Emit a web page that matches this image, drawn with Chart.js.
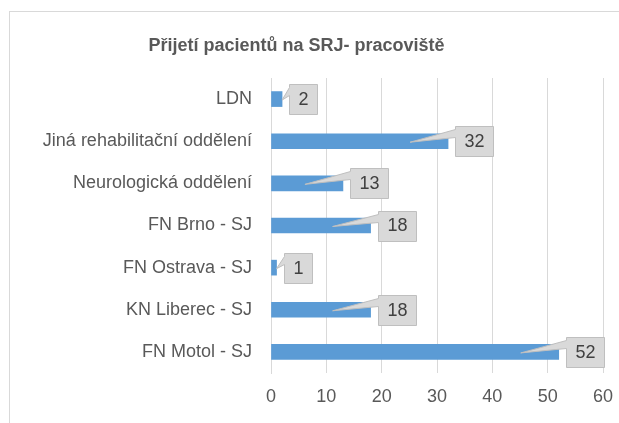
<!DOCTYPE html>
<html>
<head>
<meta charset="utf-8">
<script src="https://cdn.jsdelivr.net/npm/chart.js@4/dist/chart.umd.min.js"></script>
<style>
  html, body { margin: 0; padding: 0; background: #fff; }
  #myChart { display: block; }
</style>
</head>
<body>
<canvas id="myChart" width="619" height="423"></canvas>
<script>
var chartTitle = 'Přijetí pacientů na SRJ- pracoviště';
var labels = ['LDN', 'Jiná rehabilitační oddělení', 'Neurologická oddělení', 'FN Brno - SJ', 'FN Ostrava - SJ', 'KN Liberec - SJ', 'FN Motol - SJ'];
var prijeti = [2, 32, 13, 18, 1, 18, 52];
var xMin = 0;
var xMax = 60;
var xStep = 10;

var textColor = '#595959';
var fontFamily = '"Liberation Sans", Arial, sans-serif';

// white background, outer frame and the title
var framePlugin = {
    id: 'frame',
    beforeDraw: function (chart) {
        var c = chart.ctx;
        c.save();
        c.fillStyle = '#fff';
        c.fillRect(0, 0, chart.width, chart.height);
        c.strokeStyle = '#d9d9d9';
        c.lineWidth = 1;
        c.strokeRect(9.5, 11.5, 700, 600);
        c.fillStyle = textColor;
        c.font = 'bold 18px ' + fontFamily;
        c.textAlign = 'center';
        c.textBaseline = 'middle';
        c.fillText(chartTitle, 296.5, 46);
        c.restore();
    }
};

// gray callout boxes with a wedge pointing into the bar
var calloutPlugin = {
    id: 'callouts',
    afterDatasetsDraw: function (chart) {
        var c = chart.ctx;
        var meta = chart.getDatasetMeta(0);
        var x0 = chart.scales.x.getPixelForValue(0);
        c.save();
        c.font = '18px ' + fontFamily;
        meta.data.forEach(function (bar, i) {
            var text = String(prijeti[i]);
            var w = Math.round(c.measureText(text).width + 18);
            var h = 30;
            var left = Math.round(bar.x + 7) + 0.5;
            var top = Math.round(bar.y - h / 2) + 0.5;
            var tipX = (bar.x - x0 > 50) ? bar.x - 38 : bar.x;
            var tipY = bar.y + 1;
            c.beginPath();
            c.moveTo(left, top);
            c.lineTo(left + w, top);
            c.lineTo(left + w, top + h);
            c.lineTo(left, top + h);
            c.lineTo(left, top + 11);
            c.lineTo(tipX, tipY);
            c.lineTo(left, top + 3);
            c.closePath();
            c.fillStyle = '#d9d9d9';
            c.fill();
            c.strokeStyle = '#bfbfbf';
            c.lineWidth = 1;
            c.stroke();
            c.fillStyle = '#404040';
            c.textAlign = 'center';
            c.textBaseline = 'middle';
            c.fillText(text, left + w / 2, bar.y + 1);
        });
        c.restore();
    }
};

var chartData = {
    type: 'bar',
    data: {
        labels: labels,
        datasets: [
            {
                label: 'Přijetí pacientů',
                data: prijeti,
                backgroundColor: '#5b9bd5',
                barThickness: 15
            }
        ]
    },
    options: {
        indexAxis: 'y',
        responsive: false,
        animation: false,
        layout: {
            padding: { left: 10, top: 78, right: 16, bottom: 0 }
        },
        plugins: {
            legend: { display: false },
            tooltip: { enabled: false }
        },
        scales: {
            x: {
                min: xMin,
                max: xMax,
                ticks: {
                    stepSize: xStep,
                    color: textColor,
                    font: { family: fontFamily, size: 18 },
                    padding: 13
                },
                grid: { color: '#d9d9d9', drawTicks: false },
                border: { display: false },
                afterFit: function (scale) {
                    scale.height = 50;
                    scale.paddingLeft = 0;
                    scale.paddingRight = 0;
                }
            },
            y: {
                ticks: {
                    color: textColor,
                    font: { family: fontFamily, size: 18 },
                    padding: 11
                },
                grid: { display: false },
                border: { color: '#d9d9d9' },
                afterFit: function (scale) { scale.width = 261; }
            }
        }
    },
    plugins: [framePlugin, calloutPlugin]
};

new Chart(document.getElementById('myChart'), chartData);
</script>
</body>
</html>
